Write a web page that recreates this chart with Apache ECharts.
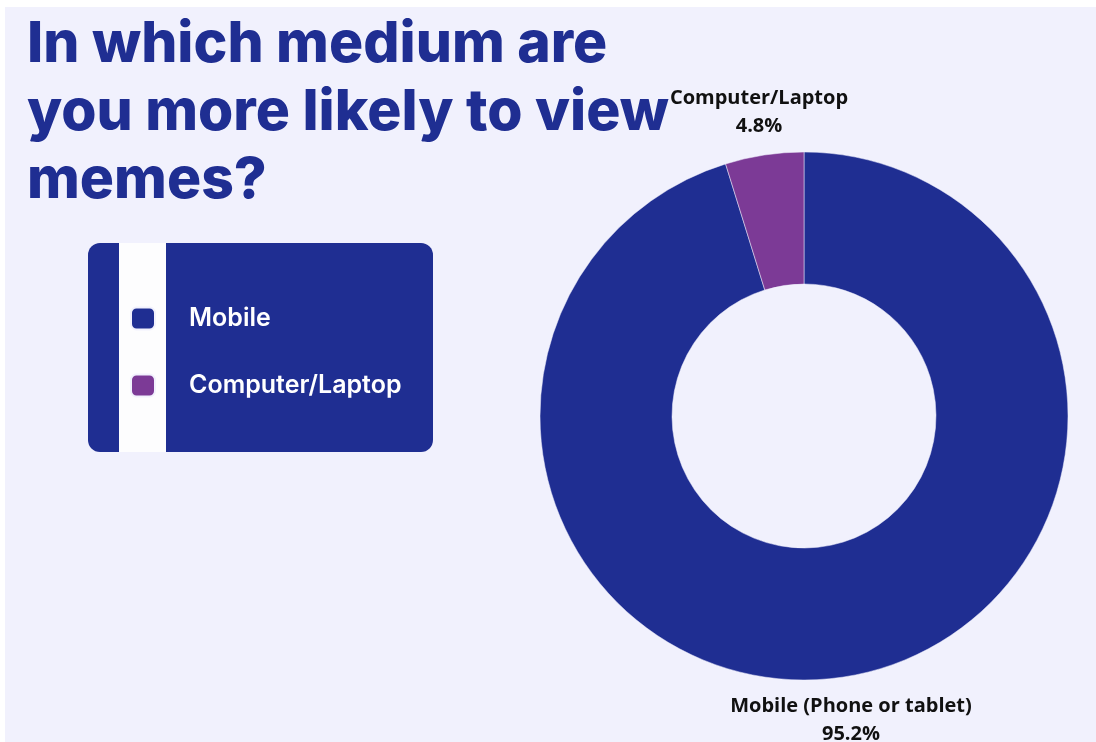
<!DOCTYPE html>
<html>
<head>
<meta charset="utf-8">
<style>
  html, body { margin: 0; padding: 0; background: #ffffff; }
  #chart { width: 1096px; height: 742px; }
</style>
<script src="https://cdn.jsdelivr.net/npm/echarts@6/dist/echarts.min.js"></script>
</head>
<body>
<div id="chart"></div>
<script>
// Survey answers: share of respondents per viewing medium
const categories = ['Mobile', 'Computer/Laptop'];
const sliceLabels = ['Mobile (Phone or tablet)', 'Computer/Laptop'];
const shares = [95.2, 4.8];
const colors = ['#1f2e92', '#7c3a96'];

const BLUE = '#1f2e92';
const BG = '#f1f1fd';

// Where each slice's caption sits (centre of the text block)
const labelSpots = [[851, 720], [759, 112]];

const chart = echarts.init(document.getElementById('chart'), null, { renderer: 'canvas' });

chart.setOption({
  backgroundColor: '#ffffff',
  animation: false,
  color: colors,
  title: {
    text: 'In which medium are\nyou more likely to view\nmemes?',
    left: 22,
    top: 6,
    textStyle: {
      fontFamily: 'Inter',
      fontWeight: 800,
      fontSize: 57,
      lineHeight: 68,
      color: BLUE
    }
  },
  graphic: [
    { type: 'rect', z: -10, shape: { x: 5, y: 7, width: 1091, height: 735 }, style: { fill: BG } },
    { type: 'rect', z: -5, shape: { x: 88, y: 243, width: 345, height: 209, r: 12 }, style: { fill: BLUE } },
    { type: 'rect', z: -4, shape: { x: 119, y: 243, width: 47, height: 209 }, style: { fill: '#fdfdfe' } }
  ],
  legend: {
    orient: 'vertical',
    left: 130,
    top: 306,
    padding: 0,
    itemWidth: 24,
    itemHeight: 22,
    itemGap: 42,
    icon: 'roundRect',
    data: categories,
    textStyle: {
      color: '#ffffff',
      fontFamily: 'Inter',
      fontWeight: 600,
      fontSize: 25,
      lineHeight: 22,
      padding: [0, 0, 0, 29]
    }
  },
  series: [{
    type: 'pie',
    center: [804, 416],
    radius: [132, 264],
    startAngle: 90,
    clockwise: true,
    itemStyle: { borderColor: BG, borderWidth: 0.5 },
    label: {
      show: true,
      position: 'outside',
      color: '#111111',
      fontFamily: 'Open Sans',
      fontWeight: 700,
      fontSize: 20,
      lineHeight: 28,
      align: 'center',
      overflow: 'none',
      width: 400,
      formatter: p => sliceLabels[p.dataIndex] + '\n' + p.value.toFixed(1) + '%'
    },
    labelLine: { show: false },
    labelLayout: p => ({
      x: labelSpots[p.dataIndex][0],
      y: labelSpots[p.dataIndex][1],
      align: 'center',
      verticalAlign: 'middle'
    }),
    data: categories.map((c, i) => ({ name: c, value: shares[i] }))
  }]
});
</script>
</body>
</html>
